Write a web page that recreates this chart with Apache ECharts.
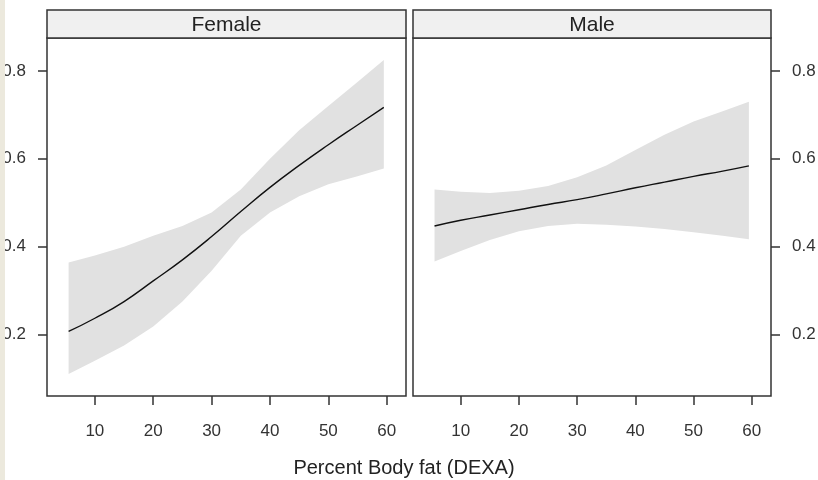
<!DOCTYPE html>
<html><head><meta charset="utf-8">
<script src="https://cdn.jsdelivr.net/npm/echarts@6/dist/echarts.min.js"></script>
<style>html,body{margin:0;padding:0;background:#fff}#c{width:818px;height:480px}</style>
</head><body><div id="c"></div>
<script>
const panels = ['Female', 'Male'];
const xTicks = [10, 20, 30, 40, 50, 60];
const yTicks = [0.2, 0.4, 0.6, 0.8];
const xTitle = 'Percent Body fat (DEXA)';
const bodyFat = [5.5, 10, 15, 20, 25, 30, 35, 40, 45, 50, 55, 59.5];

const femaleFit   = [0.207, 0.237, 0.275, 0.322, 0.370, 0.423, 0.480, 0.535, 0.585, 0.632, 0.677, 0.717];
const femaleLower = [0.110, 0.140, 0.175, 0.218, 0.275, 0.345, 0.425, 0.478, 0.515, 0.542, 0.560, 0.578];
const femaleUpper = [0.364, 0.380, 0.400, 0.425, 0.447, 0.478, 0.530, 0.600, 0.665, 0.720, 0.775, 0.825];

const maleFit   = [0.447, 0.460, 0.472, 0.484, 0.496, 0.507, 0.520, 0.534, 0.547, 0.560, 0.572, 0.584];
const maleLower = [0.366, 0.390, 0.415, 0.435, 0.447, 0.452, 0.450, 0.446, 0.440, 0.433, 0.425, 0.417];
const maleUpper = [0.530, 0.525, 0.522, 0.527, 0.538, 0.558, 0.585, 0.620, 0.655, 0.685, 0.708, 0.730];

const FONT = '"Liberation Sans", Arial, Helvetica, sans-serif';
const INK = '#333';

const pairs = (ys) => bodyFat.map((x, i) => [x, ys[i]]);

function bandSeries(gi, lo, up) {
  const rows = bodyFat.map((x, i) => [x, lo[i], up[i]]);
  return {
    type: 'custom', xAxisIndex: gi, yAxisIndex: gi, data: rows, silent: true, z: 1,
    encode: { x: 0, y: [1, 2] },
    renderItem: function (params, api) {
      if (params.dataIndex !== 0) return null;
      const top = rows.map(r => api.coord([r[0], r[2]]));
      const bot = rows.map(r => api.coord([r[0], r[1]])).reverse();
      return { type: 'polygon', shape: { points: top.concat(bot) },
        style: { fill: '#e1e1e1', stroke: null } };
    }
  };
}

function panelSeries(gi, fit, lo, up) {
  return [
    bandSeries(gi, lo, up),
    { type: 'line', xAxisIndex: gi, yAxisIndex: gi, data: pairs(fit),
      symbol: 'none', smooth: true, lineStyle: { color: '#111', width: 1.4 }, z: 5 }
  ];
}

const grids = [
  { left: 47, top: 38, width: 359, height: 358 },
  { left: 413, top: 38, width: 358, height: 358 }
];

function xAx(gi) {
  return {
    type: 'value', gridIndex: gi, min: 1.8, max: 63.3, position: 'bottom',
    axisLine: { show: false }, splitLine: { show: false },
    axisTick: { show: true, inside: false, length: 9, customValues: xTicks, lineStyle: { color: INK, width: 1.5 } },
    axisLabel: { customValues: xTicks, margin: 27, fontSize: 17, color: INK, fontFamily: FONT }
  };
}
function yAx(gi, pos) {
  return {
    type: 'value', gridIndex: gi, min: 0.06, max: 0.875, position: pos,
    axisLine: { show: false }, splitLine: { show: false },
    axisTick: { show: true, inside: false, length: 9, customValues: yTicks, lineStyle: { color: INK, width: 1.5 } },
    axisLabel: { customValues: yTicks, margin: 21, fontSize: 17, color: INK, fontFamily: FONT,
      formatter: v => v.toFixed(1) }
  };
}

const graphic = [];
grids.forEach((g, i) => {
  graphic.push({ type: 'rect', shape: { x: g.left, y: 10, width: g.width, height: 28 },
    style: { fill: '#f0f0f0', stroke: INK, lineWidth: 1.5 }, z: 10 });
  graphic.push({ type: 'text', x: g.left + g.width / 2, y: 25,
    style: { text: panels[i], font: '21px ' + FONT, fill: '#222', textAlign: 'center', textVerticalAlign: 'middle' }, z: 11 });
});
graphic.push({ type: 'text', x: 404, y: 468,
  style: { text: xTitle, font: '20px ' + FONT, fill: '#222', textAlign: 'center', textVerticalAlign: 'middle' }, z: 11 });
graphic.push({ type: 'rect', shape: { x: 0, y: 0, width: 5, height: 480 },
  style: { fill: '#ece9dd' }, z: 100 });

const chart = echarts.init(document.getElementById('c'), null, { renderer: 'canvas' });
chart.setOption({
  animation: false,
  backgroundColor: '#fff',
  grid: grids.map(g => Object.assign({ show: true, borderColor: INK, borderWidth: 1.5, backgroundColor: '#fff',
    containLabel: false, outerBoundsMode: 'none' }, g)),
  xAxis: [xAx(0), xAx(1)],
  yAxis: [yAx(0, 'left'), yAx(1, 'right')],
  series: [...panelSeries(0, femaleFit, femaleLower, femaleUpper), ...panelSeries(1, maleFit, maleLower, maleUpper)],
  graphic: graphic
});
</script></body></html>
